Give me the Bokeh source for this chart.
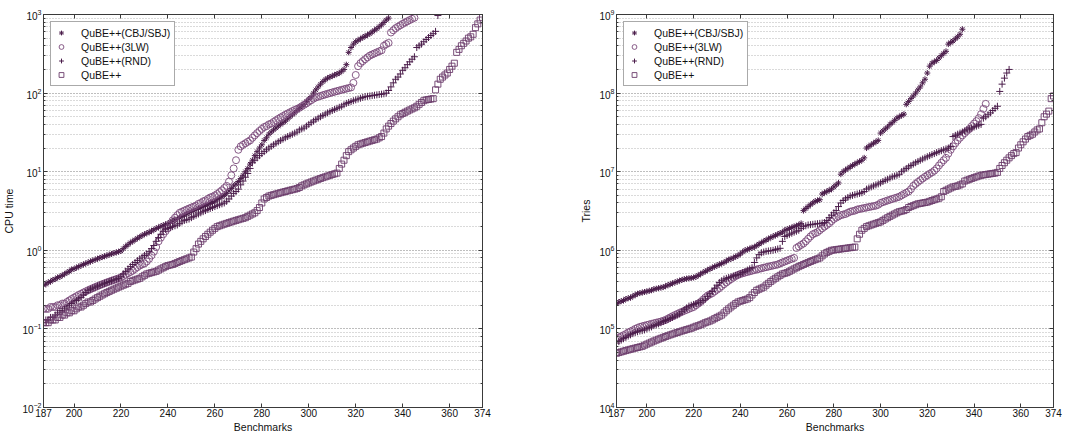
from bokeh.plotting import figure
from bokeh.layouts import row
from bokeh.models import Range1d, FixedTicker, LinearAxis, LogAxis
from bokeh.embed import file_html
from bokeh.resources import INLINE

x_start = 187
x_ticks = [187, 200, 220, 240, 260, 280, 300, 320, 340, 360, 374]
series_names = ["QuBE++(CBJ/SBJ)", "QuBE++(3LW)", "QuBE++(RND)", "QuBE++"]

# ---- CPU time (left panel) ----
cpu_cbj = [
    0.36, 0.37, 0.39, 0.40, 0.42, 0.43, 0.45, 0.46, 0.48, 0.50,
    0.52, 0.54, 0.57, 0.58, 0.60, 0.62, 0.64, 0.66, 0.68, 0.70,
    0.72, 0.74, 0.76, 0.78, 0.80, 0.82, 0.84, 0.86, 0.88, 0.90,
    0.92, 0.94, 0.96, 0.98, 1.05, 1.12, 1.18, 1.25, 1.3, 1.36,
    1.42, 1.48, 1.54, 1.6, 1.65, 1.7, 1.76, 1.82, 1.9, 1.96,
    2.02, 2.08, 2.14, 2.2, 2.28, 2.36, 2.44, 2.52, 2.6, 2.7,
    2.8, 2.9, 3.0, 3.1, 3.2, 3.3, 3.4, 3.5, 3.6, 3.7,
    3.8, 3.95, 4.05, 4.2, 4.4, 4.6, 4.8, 5.0, 5.3, 5.7,
    6.1, 6.6, 7.0, 7.5, 8.2, 9.0, 10, 11, 12.5, 14,
    16, 18, 20, 22, 25, 27, 30, 32, 34, 36,
    38, 40, 42, 44, 47, 50, 53, 56, 60, 64,
    68, 72, 78, 84, 90, 100, 110, 120, 130, 140,
    148, 155, 160, 165, 170, 175, 180, 190, 200, 230,
    330, 380, 420, 450, 470, 490, 510, 530, 550, 570,
    600, 630, 660, 700, 740, 790, 850, 900,
]
cpu_3lw = [
    0.18, 0.18, 0.18, 0.19, 0.19, 0.19, 0.20, 0.20, 0.21, 0.21,
    0.22, 0.23, 0.24, 0.25, 0.26, 0.27, 0.28, 0.29, 0.30, 0.31,
    0.32, 0.33, 0.34, 0.35, 0.36, 0.37, 0.38, 0.39, 0.40, 0.41,
    0.42, 0.43, 0.44, 0.45, 0.47, 0.49, 0.51, 0.53, 0.55, 0.58,
    0.61, 0.64, 0.66, 0.68, 0.72, 0.78, 0.86, 0.96, 1.1, 1.3,
    1.45, 1.6, 1.75, 1.9, 2.1, 2.4, 2.6, 2.8, 3.0, 3.1,
    3.2, 3.3, 3.4, 3.5, 3.6, 3.7, 3.9, 4.0, 4.2, 4.3,
    4.5, 4.7, 4.8, 5.0, 5.2, 5.5, 5.8, 6.2, 6.6, 7.5,
    9.0, 11, 14, 19, 21, 22, 23, 24, 25, 27,
    29, 31, 33, 35, 37, 38, 40, 41, 43, 45,
    47, 49, 51, 53, 55, 57, 59, 61, 63, 65,
    68, 71, 74, 78, 81, 85, 88, 90, 92, 94,
    96, 98, 100, 102, 104, 106, 108, 110, 112, 114,
    116, 118, 135, 170, 220, 240, 255, 270, 285, 300,
    310, 320, 330, 340, 350, 400, 420, 435, 590, 630,
    670, 700, 730, 760, 790, 820, 850, 880, 910,
]
cpu_rnd = [
    0.12, 0.13, 0.13, 0.14, 0.14, 0.15, 0.16, 0.17, 0.17, 0.18,
    0.19, 0.20, 0.21, 0.22, 0.23, 0.24, 0.25, 0.27, 0.29, 0.31,
    0.32, 0.33, 0.34, 0.35, 0.36, 0.37, 0.38, 0.39, 0.40, 0.41,
    0.42, 0.43, 0.44, 0.46, 0.50, 0.54, 0.58, 0.62, 0.66, 0.70,
    0.74, 0.78, 0.82, 0.86, 0.90, 0.96, 1.05, 1.15, 1.3, 1.45,
    1.6, 1.75, 1.85, 1.9, 1.95, 2.0, 2.05, 2.1, 2.2, 2.3,
    2.4, 2.45, 2.5, 2.6, 2.7, 2.8, 2.9, 3.0, 3.1, 3.2,
    3.3, 3.4, 3.5, 3.6, 3.7, 3.8, 3.9, 4.0, 4.2, 4.5,
    4.9, 5.3, 5.6, 6.0, 6.8, 7.6, 8.5, 9.5, 11, 13,
    14, 15, 16, 17, 18, 19, 20, 21, 22, 23,
    24, 25, 26, 27, 28, 29, 30, 31, 32, 34,
    35, 36, 38, 40, 42, 44, 46, 48, 50, 52,
    54, 56, 58, 60, 62, 64, 66, 68, 71, 74,
    76, 78, 80, 82, 84, 86, 88, 90, 91, 92,
    93, 94, 95, 96, 97, 98, 100, 108, 120, 135,
    150, 160, 175, 195, 210, 230, 250, 270, 290, 380,
    400, 420, 450, 480, 510, 540, 570, 610, 970,
]
cpu_qube = [
    0.12, 0.12, 0.12, 0.13, 0.13, 0.13, 0.14, 0.14, 0.15, 0.15,
    0.16, 0.16, 0.17, 0.17, 0.18, 0.19, 0.19, 0.20, 0.21, 0.22,
    0.22, 0.23, 0.24, 0.25, 0.26, 0.27, 0.28, 0.29, 0.30, 0.31,
    0.32, 0.33, 0.34, 0.35, 0.36, 0.37, 0.38, 0.40, 0.41, 0.42,
    0.43, 0.44, 0.46, 0.48, 0.50, 0.51, 0.52, 0.53, 0.54, 0.56,
    0.58, 0.60, 0.62, 0.64, 0.65, 0.66, 0.68, 0.70, 0.72, 0.74,
    0.76, 0.78, 0.80, 0.82, 0.95, 1.05, 1.2, 1.3, 1.4, 1.5,
    1.6, 1.7, 1.8, 1.9, 2.0, 2.05, 2.1, 2.15, 2.2, 2.25,
    2.3, 2.35, 2.4, 2.45, 2.5, 2.55, 2.6, 2.7, 2.8, 2.9,
    3.0, 3.2, 3.5, 4.0, 4.5, 4.7, 4.9, 5.0, 5.1, 5.2,
    5.3, 5.4, 5.5, 5.6, 5.7, 5.8, 5.9, 6.0, 6.1, 6.3,
    6.6, 6.8, 7.0, 7.2, 7.4, 7.6, 7.8, 8.0, 8.2, 8.4,
    8.6, 8.8, 9.0, 9.2, 9.4, 9.6, 11, 12.5, 14, 16,
    18, 19, 20, 21, 22, 22.5, 23, 23.5, 24, 24.5,
    25, 25.5, 26, 27, 28, 31, 35, 38, 41, 44,
    47, 50, 53, 55, 57, 59, 61, 63, 65, 68,
    72, 76, 80, 82, 83, 84, 85, 110, 130, 150,
    160, 170, 180, 200, 220, 240, 330, 360, 400, 430,
    460, 500, 520, 560, 680, 760, 850, 920,
]

# ---- Tries (right panel) ----
tries_cbj = [
    2.1e5, 2.2e5, 2.25e5, 2.3e5, 2.4e5, 2.45e5, 2.5e5, 2.6e5, 2.7e5, 2.8e5,
    2.85e5, 2.9e5, 2.95e5, 3.0e5, 3.05e5, 3.1e5, 3.2e5, 3.25e5, 3.3e5, 3.35e5,
    3.4e5, 3.5e5, 3.6e5, 3.7e5, 3.8e5, 3.9e5, 4.0e5, 4.1e5, 4.2e5, 4.3e5,
    4.35e5, 4.4e5, 4.45e5, 4.5e5, 4.6e5, 4.8e5, 5.0e5, 5.2e5, 5.4e5, 5.6e5,
    5.8e5, 6.0e5, 6.2e5, 6.4e5, 6.6e5, 6.8e5, 7.0e5, 7.3e5, 7.6e5, 7.8e5,
    8.0e5, 8.3e5, 8.6e5, 9.0e5, 9.5e5, 1.0e6, 1.02e6, 1.05e6, 1.08e6, 1.1e6,
    1.15e6, 1.2e6, 1.25e6, 1.3e6, 1.35e6, 1.4e6, 1.45e6, 1.5e6, 1.55e6, 1.6e6,
    1.65e6, 1.7e6, 1.8e6, 1.85e6, 1.9e6, 1.95e6, 2.0e6, 2.05e6, 2.1e6, 2.2e6,
    3.2e6, 3.4e6, 3.6e6, 3.8e6, 4.0e6, 4.2e6, 4.3e6, 4.4e6, 5.2e6, 5.4e6,
    5.6e6, 5.8e6, 6.0e6, 6.4e6, 6.8e6, 7.2e6, 9.3e6, 1.0e7, 1.05e7, 1.1e7,
    1.15e7, 1.2e7, 1.25e7, 1.3e7, 1.35e7, 1.4e7, 1.5e7, 2.0e7, 2.1e7, 2.2e7,
    2.3e7, 2.4e7, 2.5e7, 3.1e7, 3.3e7, 3.5e7, 3.7e7, 4.0e7, 4.2e7, 4.5e7,
    4.8e7, 5.0e7, 5.2e7, 5.4e7, 7.2e7, 7.8e7, 8.5e7, 9.2e7, 1.0e8, 1.1e8,
    1.2e8, 1.35e8, 1.5e8, 1.8e8, 2.2e8, 2.4e8, 2.5e8, 2.6e8, 2.8e8, 3.0e8,
    3.2e8, 3.4e8, 4.2e8, 4.4e8, 4.6e8, 4.9e8, 5.2e8, 5.6e8, 6.5e8,
]
tries_3lw = [
    7.5e4, 7.8e4, 8.0e4, 8.3e4, 8.6e4, 9.0e4, 9.3e4, 9.6e4, 1.0e5, 1.03e5,
    1.06e5, 1.08e5, 1.1e5, 1.12e5, 1.14e5, 1.16e5, 1.18e5, 1.2e5, 1.22e5, 1.24e5,
    1.27e5, 1.3e5, 1.35e5, 1.4e5, 1.45e5, 1.5e5, 1.55e5, 1.6e5, 1.65e5, 1.7e5,
    1.75e5, 1.8e5, 1.85e5, 1.9e5, 2.0e5, 2.1e5, 2.2e5, 2.35e5, 2.5e5, 2.65e5,
    2.75e5, 2.85e5, 3.0e5, 3.15e5, 3.3e5, 3.5e5, 3.7e5, 3.9e5, 4.1e5, 4.3e5,
    4.5e5, 4.7e5, 4.85e5, 5.0e5, 5.1e5, 5.2e5, 5.3e5, 5.4e5, 5.5e5, 5.6e5,
    5.7e5, 5.8e5, 5.9e5, 6.0e5, 6.1e5, 6.2e5, 6.3e5, 6.4e5, 6.5e5, 6.6e5,
    6.8e5, 7.0e5, 7.2e5, 7.4e5, 7.6e5, 7.8e5, 8.0e5, 1.07e6, 1.12e6, 1.17e6,
    1.22e6, 1.3e6, 1.4e6, 1.5e6, 1.6e6, 1.65e6, 1.7e6, 1.8e6, 1.9e6, 2.0e6,
    2.1e6, 2.2e6, 2.35e6, 2.5e6, 2.6e6, 2.7e6, 2.8e6, 2.85e6, 2.9e6, 3.0e6,
    3.1e6, 3.15e6, 3.2e6, 3.3e6, 3.35e6, 3.4e6, 3.45e6, 3.5e6, 3.55e6, 3.6e6,
    3.65e6, 3.7e6, 3.8e6, 4.0e6, 4.1e6, 4.2e6, 4.3e6, 4.4e6, 4.5e6, 4.6e6,
    4.7e6, 4.8e6, 5.0e6, 5.2e6, 5.4e6, 5.6e6, 6.0e6, 6.6e6, 7.0e6, 7.4e6,
    7.8e6, 8.2e6, 8.6e6, 9.0e6, 9.4e6, 9.8e6, 1.03e7, 1.1e7, 1.2e7, 1.3e7,
    1.4e7, 1.5e7, 1.7e7, 1.9e7, 2.1e7, 2.3e7, 2.5e7, 2.7e7, 2.9e7, 3.1e7,
    3.3e7, 3.5e7, 3.8e7, 4.1e7, 4.4e7, 4.8e7, 5.4e7, 6.3e7, 7.3e7,
]
tries_rnd = [
    6.6e4, 6.9e4, 7.2e4, 7.5e4, 7.8e4, 8.1e4, 8.4e4, 8.7e4, 9.0e4, 9.2e4,
    9.4e4, 9.5e4, 9.7e4, 1.0e5, 1.03e5, 1.06e5, 1.1e5, 1.13e5, 1.16e5, 1.2e5,
    1.24e5, 1.28e5, 1.32e5, 1.36e5, 1.4e5, 1.45e5, 1.5e5, 1.55e5, 1.65e5, 1.75e5,
    1.85e5, 1.95e5, 2.0e5, 2.05e5, 2.1e5, 2.15e5, 2.2e5, 2.3e5, 2.4e5, 2.6e5,
    2.8e5, 3.0e5, 3.3e5, 3.6e5, 3.9e5, 4.1e5, 4.3e5, 4.4e5, 4.5e5, 4.6e5,
    4.7e5, 4.8e5, 4.9e5, 5.0e5, 5.2e5, 5.4e5, 5.6e5, 5.8e5, 6.0e5, 7.0e5,
    8.0e5, 8.8e5, 9.3e5, 9.5e5, 9.7e5, 9.8e5, 9.9e5, 1.0e6, 1.02e6, 1.04e6,
    1.06e6, 1.3e6, 1.5e6, 1.55e6, 1.6e6, 1.65e6, 1.7e6, 1.75e6, 1.8e6, 1.9e6,
    2.0e6, 2.05e6, 2.1e6, 2.12e6, 2.14e6, 2.16e6, 2.18e6, 2.2e6, 2.22e6, 2.25e6,
    2.4e6, 2.6e6, 2.8e6, 3.0e6, 3.2e6, 3.6e6, 4.0e6, 4.3e6, 4.5e6, 4.7e6,
    4.9e6, 5.0e6, 5.1e6, 5.2e6, 5.3e6, 5.4e6, 5.6e6, 6.0e6, 6.2e6, 6.4e6,
    6.6e6, 6.8e6, 7.0e6, 7.2e6, 7.5e6, 7.8e6, 8.0e6, 8.3e6, 8.6e6, 8.8e6,
    9.0e6, 9.3e6, 1.0e7, 1.05e7, 1.1e7, 1.15e7, 1.2e7, 1.25e7, 1.3e7, 1.35e7,
    1.4e7, 1.45e7, 1.5e7, 1.55e7, 1.6e7, 1.65e7, 1.7e7, 1.75e7, 1.8e7, 1.85e7,
    1.9e7, 1.95e7, 2.0e7, 2.1e7, 2.8e7, 2.9e7, 3.0e7, 3.1e7, 3.2e7, 3.3e7,
    3.4e7, 3.5e7, 3.6e7, 3.7e7, 3.8e7, 3.9e7, 4.0e7, 4.8e7, 5.0e7, 5.3e7,
    5.6e7, 6.0e7, 6.4e7, 6.8e7, 1.05e8, 1.3e8, 1.55e8, 1.8e8, 2.0e8,
]
tries_qube = [
    4.9e4, 5.0e4, 5.1e4, 5.2e4, 5.3e4, 5.4e4, 5.5e4, 5.6e4, 5.7e4, 5.8e4,
    5.9e4, 6.0e4, 6.2e4, 6.4e4, 6.6e4, 6.8e4, 7.0e4, 7.2e4, 7.4e4, 7.6e4,
    7.8e4, 8.0e4, 8.2e4, 8.4e4, 8.6e4, 8.8e4, 9.0e4, 9.2e4, 9.4e4, 9.6e4,
    9.8e4, 1.0e5, 1.02e5, 1.05e5, 1.08e5, 1.1e5, 1.13e5, 1.16e5, 1.2e5, 1.23e5,
    1.26e5, 1.3e5, 1.35e5, 1.4e5, 1.45e5, 1.5e5, 1.6e5, 1.7e5, 1.8e5, 1.9e5,
    2.0e5, 2.1e5, 2.2e5, 2.25e5, 2.3e5, 2.35e5, 2.4e5, 2.5e5, 2.7e5, 2.9e5,
    3.1e5, 3.2e5, 3.3e5, 3.4e5, 3.6e5, 3.8e5, 4.0e5, 4.2e5, 4.4e5, 4.6e5,
    4.8e5, 5.0e5, 5.1e5, 5.2e5, 5.4e5, 5.6e5, 5.8e5, 6.0e5, 6.2e5, 6.4e5,
    6.6e5, 6.8e5, 7.0e5, 7.2e5, 7.4e5, 7.6e5, 7.8e5, 8.0e5, 8.5e5, 9.0e5,
    9.4e5, 9.7e5, 1.0e6, 1.01e6, 1.02e6, 1.03e6, 1.04e6, 1.05e6, 1.06e6, 1.07e6,
    1.08e6, 1.09e6, 1.1e6, 1.4e6, 1.6e6, 1.8e6, 1.9e6, 2.0e6, 2.05e6, 2.1e6,
    2.15e6, 2.2e6, 2.25e6, 2.3e6, 2.4e6, 2.5e6, 2.6e6, 2.7e6, 2.8e6, 2.9e6,
    3.0e6, 3.1e6, 3.15e6, 3.2e6, 3.3e6, 3.5e6, 3.6e6, 3.7e6, 3.8e6, 3.9e6,
    3.95e6, 4.0e6, 4.05e6, 4.1e6, 4.2e6, 4.3e6, 4.4e6, 4.5e6, 4.6e6, 4.8e6,
    5.6e6, 5.8e6, 6.0e6, 6.2e6, 6.4e6, 6.5e6, 6.6e6, 6.8e6, 7.0e6, 7.6e6,
    7.8e6, 8.0e6, 8.2e6, 8.4e6, 8.6e6, 8.8e6, 9.0e6, 9.1e6, 9.2e6, 9.3e6,
    9.4e6, 9.5e6, 9.6e6, 9.8e6, 1.1e7, 1.2e7, 1.3e7, 1.4e7, 1.5e7, 1.6e7,
    1.7e7, 1.75e7, 2.0e7, 2.2e7, 2.4e7, 2.6e7, 2.8e7, 2.9e7, 3.0e7, 3.2e7,
    3.4e7, 3.5e7, 4.2e7, 5.0e7, 5.4e7, 5.9e7, 8.5e7, 9.2e7,
]

FONT = "Liberation Sans"
AXIS_COLOR = "#3a3a3a"
GRID_COLOR = "#b4b4b4"
MARKERS = [
    dict(marker="asterisk", size=6, line_color="#4a1c4a", line_width=1.0),
    dict(marker="circle", size=7, line_color="#7a4a7a", line_width=0.9, fill_color=None),
    dict(marker="cross", size=7, line_color="#4a1c4a", line_width=1.0),
    dict(marker="square", size=6, line_color="#6a3a6a", line_width=0.9, fill_color=None),
]


def style_axis(ax, show_labels=True):
    ax.axis_line_color = AXIS_COLOR
    ax.major_tick_line_color = AXIS_COLOR
    ax.minor_tick_line_color = AXIS_COLOR
    ax.major_tick_in = 4
    ax.major_tick_out = 0
    ax.minor_tick_in = 2
    ax.minor_tick_out = 0
    ax.major_label_text_font = FONT
    ax.major_label_text_color = "#111111"
    ax.axis_label_text_font = FONT
    ax.axis_label_text_font_style = "normal"
    ax.axis_label_text_color = "#111111"
    if show_labels:
        ax.major_label_text_font_size = "10px"
        ax.axis_label_text_font_size = "10.5px"
    else:
        ax.major_label_text_font_size = "1px"
        ax.major_label_text_alpha = 0.0
        ax.major_label_standoff = 0


def make_panel(series, ylabel, yrange, width, left, right):
    p = figure(
        width=width, height=439, y_axis_type="log",
        x_range=Range1d(187, 374), y_range=Range1d(*yrange),
        output_backend="svg", toolbar_location=None,
        min_border_left=left, min_border_right=right,
        min_border_top=14, min_border_bottom=32,
    )
    p.outline_line_color = AXIS_COLOR
    p.background_fill_color = "white"
    p.border_fill_color = "white"

    for name, vals, mk in zip(series_names, series, MARKERS):
        xs = list(range(x_start, x_start + len(vals)))
        p.scatter(xs, vals, legend_label=name, **mk)

    p.xgrid.visible = False
    p.ygrid.grid_line_color = GRID_COLOR
    p.ygrid.grid_line_dash = "1 2"
    p.ygrid.minor_grid_line_color = GRID_COLOR
    p.ygrid.minor_grid_line_dash = "1 2"

    p.xaxis.ticker = FixedTicker(ticks=x_ticks, minor_ticks=[])
    p.xaxis.axis_label = "Benchmarks"
    p.yaxis.axis_label = ylabel
    for ax in p.xaxis:
        style_axis(ax)
        ax.major_label_standoff = 1
        ax.axis_label_standoff = 1
    for ax in p.yaxis:
        style_axis(ax)
        ax.major_label_standoff = 2
        ax.axis_label_standoff = 4

    top = LinearAxis(ticker=FixedTicker(ticks=x_ticks, minor_ticks=[]))
    style_axis(top, show_labels=False)
    p.add_layout(top, "above")
    rgt = LogAxis()
    style_axis(rgt, show_labels=False)
    p.add_layout(rgt, "right")

    lg = p.legend[0]
    lg.location = "top_left"
    lg.margin = 7
    lg.padding = 4
    lg.spacing = 1
    lg.label_height = 13
    lg.glyph_height = 13
    lg.glyph_width = 12
    lg.label_standoff = 14
    lg.label_text_font = FONT
    lg.label_text_font_size = "10.5px"
    lg.label_text_color = "#111111"
    lg.border_line_color = "#555555"
    lg.border_line_width = 1
    lg.background_fill_color = "white"
    lg.background_fill_alpha = 1.0
    return p


p1 = make_panel([cpu_cbj, cpu_3lw, cpu_rnd, cpu_qube], "CPU time", (1e-2, 1e3), 530, 43, 48)
p2 = make_panel([tries_cbj, tries_3lw, tries_rnd, tries_qube], "Tries", (1e4, 1e9), 535, 86, 12)

layout = row(p1, p2, spacing=0)
open("out.html", "w").write(file_html(layout, INLINE))
